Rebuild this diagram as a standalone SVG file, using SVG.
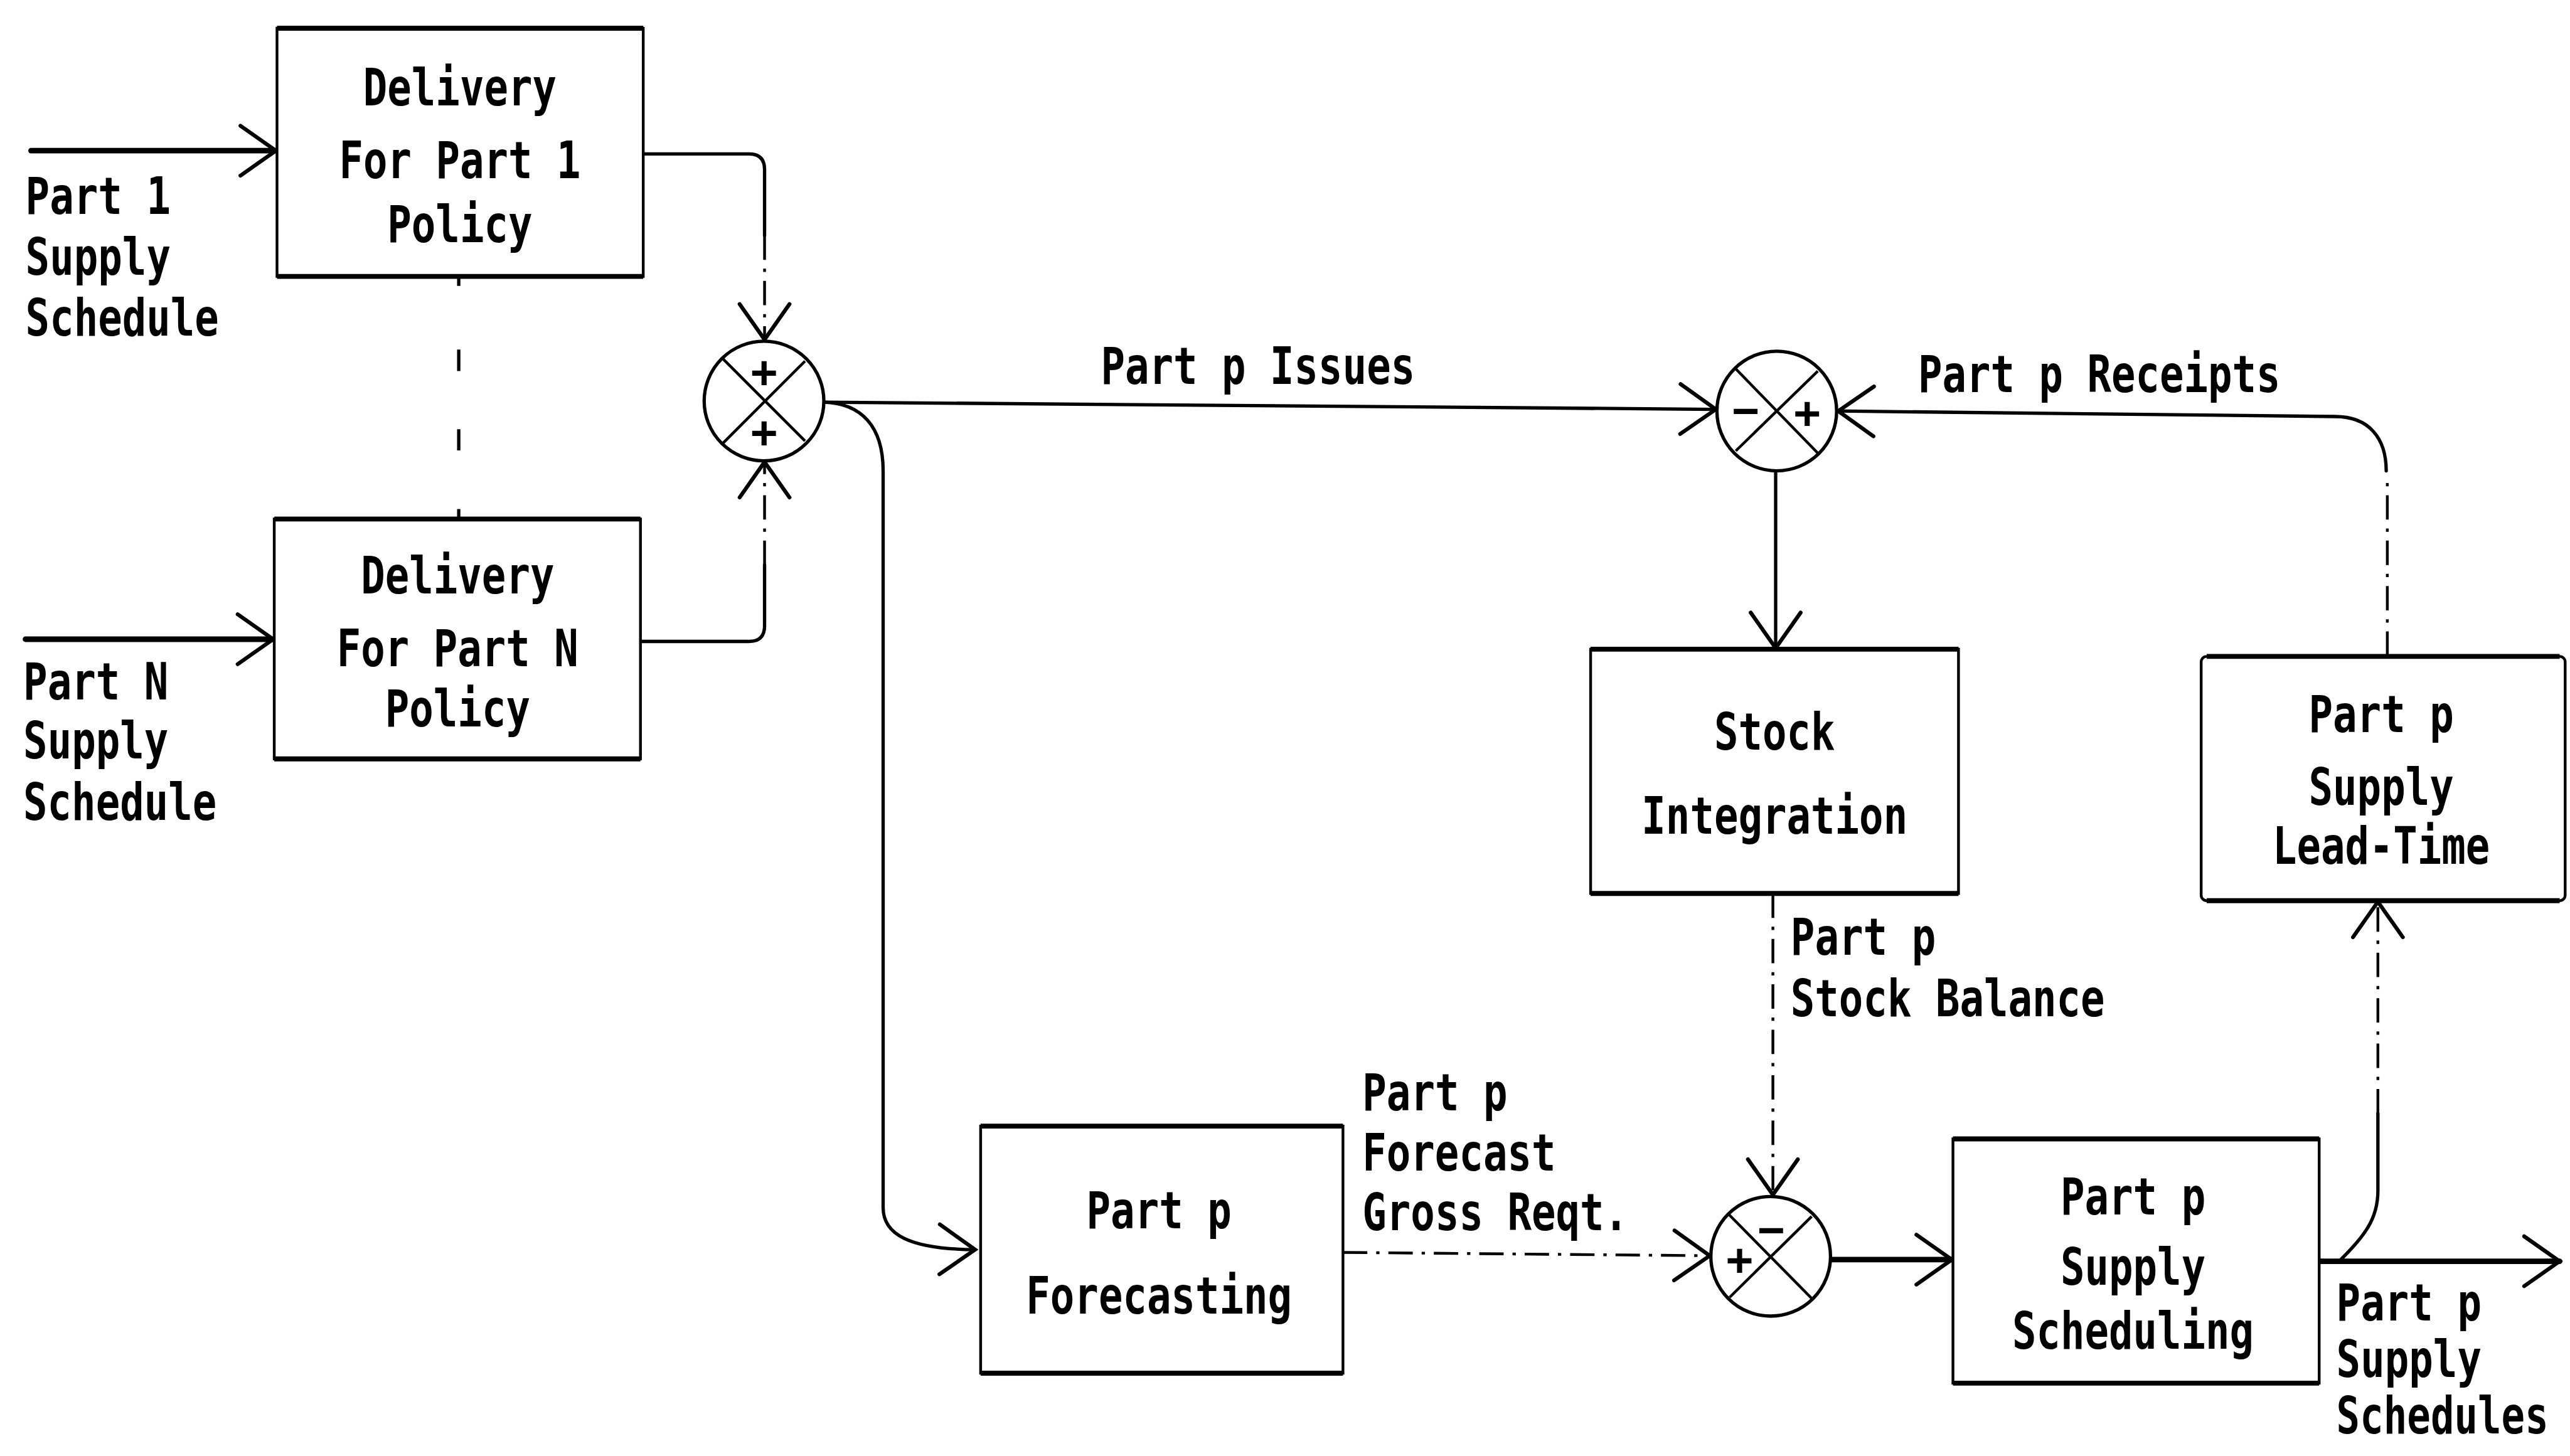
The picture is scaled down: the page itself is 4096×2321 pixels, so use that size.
<svg xmlns="http://www.w3.org/2000/svg" width="4096" height="2321" viewBox="0 0 4096 2321">
<style>
.bx{fill:#fff;stroke:#000;stroke-width:5}
.bh{fill:none;stroke:#000;stroke-width:9}
.ln{fill:none;stroke:#000;stroke-width:6;stroke-linecap:round}
.tk{fill:none;stroke:#000;stroke-width:10;stroke-linecap:round}
.ds{fill:none;stroke:#000;stroke-width:5;stroke-dasharray:44 16 6 16}
.dt{fill:none;stroke:#000;stroke-width:6}
.jc{fill:#fff;stroke:#000;stroke-width:6}
.jx{fill:none;stroke:#000;stroke-width:5}
.t{font-family:"DejaVu Sans Mono","Liberation Mono",monospace;font-size:93px;font-weight:bold;fill:#000}
.c{text-anchor:middle}
.s{font-family:"DejaVu Sans Mono","Liberation Mono",monospace;font-size:80px;font-weight:bold;fill:#000;text-anchor:middle}
</style>
<defs>
<marker id="ah" markerUnits="userSpaceOnUse" orient="auto" refX="0" refY="0" markerWidth="10" markerHeight="10" style="overflow:visible">
<path d="M-64,-45 L0,0 L-64,45" fill="none" stroke="#000" stroke-width="7" stroke-linecap="round" stroke-linejoin="miter"/>
</marker>
</defs>
<rect width="4096" height="2321" fill="#fff"/>
<g transform="scale(0.883)">
<g id="connectors">
<path class="tk" d="M56,272 H498" marker-end="url(#ah)"/>
<path class="tk" d="M46,1154 H493" marker-end="url(#ah)"/>
<path class="ln" d="M1161,278 H1352 Q1380,278 1380,306 V425"/>
<path class="ds" d="M1380,425 V613" marker-end="url(#ah)"/>
<path class="ln" d="M1156,1158 H1352 Q1380,1158 1380,1130 V1020"/>
<path class="ds" d="M1380,1020 V834" marker-end="url(#ah)"/>
<path class="dt" d="M828,499 V516 M828,631 V670 M828,775 V813 M828,919 V937"/>
<path class="ln" d="M1487,726 L3097,739" marker-end="url(#ah)"/>
<path class="ln" d="M1487,726 C1555,728 1594,770 1594,850 V2180 C1594,2228 1640,2255 1760,2256" marker-end="url(#ah)"/>
<path class="ln" d="M4307,850 C4307,790 4275,752 4215,752 L3318,742" marker-end="url(#ah)"/>
<path class="ds" d="M4309,1184 V860"/>
<path class="ln" d="M3205,851 V1170" marker-end="url(#ah)"/>
<path class="ds" d="M3200,1613 V2157" marker-end="url(#ah)"/>
<path class="ds" d="M2424,2261 L3086,2267" marker-end="url(#ah)"/>
<path class="tk" d="M3305,2274 H3523" marker-end="url(#ah)"/>
<path class="tk" d="M4186,2277 H4620" marker-end="url(#ah)"/>
<path class="ln" d="M4222,2277 C4268,2232 4292,2200 4292,2150 V2010"/>
<path class="ds" d="M4292,2010 V1628" marker-end="url(#ah)"/>
</g>
<g id="delivery1">
<rect class="bx" x="500" y="51" width="661" height="448"/>
<path class="bh" d="M500,51 H1161 M500,499 H1161"/>
<text class="t c" x="830" y="190" textLength="349" lengthAdjust="spacingAndGlyphs">Delivery</text>
<text class="t c" x="830" y="322" textLength="436" lengthAdjust="spacingAndGlyphs">For Part 1</text>
<text class="t c" x="830" y="437" textLength="262" lengthAdjust="spacingAndGlyphs">Policy</text>
</g>
<g id="deliveryN">
<rect class="bx" x="495" y="937" width="661" height="433"/>
<path class="bh" d="M495,937 H1156 M495,1370 H1156"/>
<text class="t c" x="826" y="1071" textLength="349" lengthAdjust="spacingAndGlyphs">Delivery</text>
<text class="t c" x="826" y="1203" textLength="436" lengthAdjust="spacingAndGlyphs">For Part N</text>
<text class="t c" x="826" y="1312" textLength="262" lengthAdjust="spacingAndGlyphs">Policy</text>
</g>
<g id="input1-label">
<text class="t" x="46" y="386" textLength="262" lengthAdjust="spacingAndGlyphs">Part 1</text>
<text class="t" x="46" y="496" textLength="262" lengthAdjust="spacingAndGlyphs">Supply</text>
<text class="t" x="46" y="606" textLength="349" lengthAdjust="spacingAndGlyphs">Schedule</text>
</g>
<g id="inputN-label">
<text class="t" x="42" y="1263" textLength="262" lengthAdjust="spacingAndGlyphs">Part N</text>
<text class="t" x="42" y="1369" textLength="262" lengthAdjust="spacingAndGlyphs">Supply</text>
<text class="t" x="42" y="1480" textLength="349" lengthAdjust="spacingAndGlyphs">Schedule</text>
</g>
<g id="junction1">
<circle class="jc" cx="1379" cy="724" r="108"/>
<path class="jx" d="M1305,648 L1453,796 M1453,652 L1305,800"/>
<text class="s" x="1379" y="699">+</text>
<text class="s" x="1379" y="808">+</text>
</g>
<g id="issues-label">
<text class="t" x="1987" y="693" textLength="567" lengthAdjust="spacingAndGlyphs">Part p Issues</text>
</g>
<g id="junction2">
<circle class="jc" cx="3207" cy="742" r="108"/>
<path class="jx" d="M3133,666 L3281,818 M3281,670 L3133,814"/>
<text class="s" x="3151" y="768">−</text>
<text class="s" x="3262" y="772">+</text>
</g>
<g id="receipts-label">
<text class="t" x="3462" y="708" textLength="654" lengthAdjust="spacingAndGlyphs">Part p Receipts</text>
</g>
<g id="stock-integration">
<rect class="bx" x="2871" y="1172" width="664" height="441"/>
<path class="bh" d="M2871,1172 H3535 M2871,1613 H3535"/>
<text class="t c" x="3203" y="1353" textLength="218" lengthAdjust="spacingAndGlyphs">Stock</text>
<text class="t c" x="3203" y="1505" textLength="480" lengthAdjust="spacingAndGlyphs">Integration</text>
</g>
<g id="lead-time">
<rect class="bx" x="3973" y="1185" width="657" height="441" rx="10"/>
<path class="bh" d="M3983,1185 H4620 M3983,1626 H4620"/>
<text class="t c" x="4298" y="1322" textLength="262" lengthAdjust="spacingAndGlyphs">Part p</text>
<text class="t c" x="4298" y="1453" textLength="262" lengthAdjust="spacingAndGlyphs">Supply</text>
<text class="t c" x="4298" y="1560" textLength="392" lengthAdjust="spacingAndGlyphs">Lead-Time</text>
</g>
<g id="stock-balance-label">
<text class="t" x="3232" y="1724" textLength="262" lengthAdjust="spacingAndGlyphs">Part p</text>
<text class="t" x="3232" y="1835" textLength="567" lengthAdjust="spacingAndGlyphs">Stock Balance</text>
</g>
<g id="forecasting">
<rect class="bx" x="1770" y="2033" width="654" height="446"/>
<path class="bh" d="M1770,2033 H2424 M1770,2479 H2424"/>
<text class="t c" x="2092" y="2217" textLength="262" lengthAdjust="spacingAndGlyphs">Part p</text>
<text class="t c" x="2092" y="2372" textLength="480" lengthAdjust="spacingAndGlyphs">Forecasting</text>
</g>
<g id="forecast-label">
<text class="t" x="2459" y="2004" textLength="262" lengthAdjust="spacingAndGlyphs">Part p</text>
<text class="t" x="2459" y="2113" textLength="349" lengthAdjust="spacingAndGlyphs">Forecast</text>
<text class="t" x="2459" y="2221" textLength="480" lengthAdjust="spacingAndGlyphs">Gross Reqt.</text>
</g>
<g id="junction3">
<circle class="jc" cx="3196" cy="2268" r="108"/>
<path class="jx" d="M3120,2192 L3270,2344 M3270,2196 L3122,2342"/>
<text class="s" x="3197" y="2247">−</text>
<text class="s" x="3140" y="2301">+</text>
</g>
<g id="supply-scheduling">
<rect class="bx" x="3525" y="2056" width="661" height="441"/>
<path class="bh" d="M3525,2056 H4186 M3525,2497 H4186"/>
<text class="t c" x="3850" y="2192" textLength="262" lengthAdjust="spacingAndGlyphs">Part p</text>
<text class="t c" x="3850" y="2319" textLength="262" lengthAdjust="spacingAndGlyphs">Supply</text>
<text class="t c" x="3850" y="2435" textLength="436" lengthAdjust="spacingAndGlyphs">Scheduling</text>
</g>
<g id="output-label">
<text class="t" x="4217" y="2384" textLength="262" lengthAdjust="spacingAndGlyphs">Part p</text>
<text class="t" x="4217" y="2486" textLength="262" lengthAdjust="spacingAndGlyphs">Supply</text>
<text class="t" transform="translate(4217 2588) scale(0.76 1)" x="0" y="0">Schedules</text>
</g>
</g>
</svg>
